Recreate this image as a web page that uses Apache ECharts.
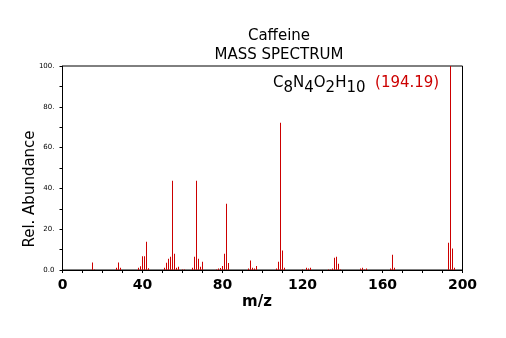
<!DOCTYPE html>
<html>
<head>
    <meta charset="utf-8">
    <title>Caffeine</title>
    <script src="https://cdn.jsdelivr.net/npm/echarts@6/dist/echarts.min.js"></script>
</head>
<body style="margin:0">
    <div id="main" style="width: 506px;height:338px;"></div>
    <script type="text/javascript">

    // m/z values and their relative abundance
    var mzData = [15, 16, 27, 28, 29, 38, 39, 40, 41, 42, 43,
        51, 52, 53, 54, 55, 56, 57, 58, 60, 61,
        65, 66, 67, 68, 69, 70,
        77, 78, 79, 80, 81, 82, 83,
        93, 94, 95, 96, 97,
        107, 108, 109, 110, 111,
        120, 122, 123, 124,
        133, 134, 135, 136, 137, 138, 139,
        149, 150, 151, 152,
        164, 165, 166,
        193, 194, 195, 196];
    var abundData = [3.7, 0.3, 1.1, 3.7, 1.1, 1.1, 1.8, 6.7, 6.7, 13.9, 0.8,
        1.1, 3.6, 5.5, 6.5, 43.8, 8.0, 1.1, 1.6, 0.3, 0.3,
        1.1, 6.5, 43.8, 5.5, 1.6, 4.0,
        0.3, 0.7, 1.0, 2.0, 8.0, 32.5, 3.4,
        0.7, 4.6, 1.1, 0.7, 2.0,
        0.7, 4.1, 72.2, 9.5, 1.1,
        0.3, 1.1, 0.7, 1.1,
        0.3, 0.3, 0.7, 6.0, 6.5, 3.1, 0.3,
        0.7, 1.1, 0.3, 0.7,
        0.7, 7.5, 1.1,
        13.4, 100, 10.5, 1.1];

    var font = 'DejaVu Sans';
    var red = '#cc0000';

    var myChart = echarts.init(document.getElementById('main'));

    let pairs = [];
    mzData.forEach((m, i) => {
        pairs.push([m, abundData[i]]);
    });

    var option = {
        animation: false,
        backgroundColor: '#fff',
        // half-pixel left so the 1px bars land on whole pixels
        grid: {
            left: 62.5, top: 66, width: 400, height: 204,
            show: true, borderColor: '#000', borderWidth: 1
        },
        graphic: [
            { type: 'text', x: 279, y: 29, style: { text: 'Caffeine', font: '15px "DejaVu Sans"', fill: '#000', align: 'center' } },
            { type: 'text', x: 279, y: 48, style: { text: 'MASS SPECTRUM', font: '15px "DejaVu Sans"', fill: '#000', align: 'center' } },
            {
                type: 'text', x: 273, y: 71,
                style: {
                    text: '{m|C}{s|8}{m|N}{s|4}{m|O}{s|2}{m|H}{s|10}{r|  (194.19)}',
                    rich: {
                        m: { fontSize: 15, fontFamily: font, fill: '#000' },
                        s: { fontSize: 15, fontFamily: font, fill: '#000', padding: [10, 0, 0, 0] },
                        r: { fontSize: 15, fontFamily: font, fill: red }
                    }
                }
            },
            { type: 'text', x: 30, y: 189, rotation: Math.PI / 2, style: { text: 'Rel. Abundance', font: '15px "DejaVu Sans"', fill: '#000', align: 'center', verticalAlign: 'middle' } },
            { type: 'text', x: 257, y: 302, style: { text: 'm/z', font: 'bold 15px "DejaVu Sans"', fill: '#000', align: 'center', verticalAlign: 'middle' } }
        ],
        xAxis: {
            type: 'value',
            min: 0,
            max: 200,
            interval: 40,
            axisLine: { lineStyle: { color: '#000', width: 1 } },
            axisTick: { length: 3, lineStyle: { color: '#000' } },
            minorTick: { show: true, splitNumber: 4, length: 3, lineStyle: { color: '#000' } },
            splitLine: { show: false },
            axisLabel: { color: '#000', fontFamily: font, fontSize: 14, fontWeight: 'bold', margin: 8 }
        },
        yAxis: {
            type: 'value',
            min: 0,
            max: 100,
            interval: 20,
            axisLine: { show: true, lineStyle: { color: '#000', width: 1 } },
            axisTick: { show: true, length: 3, lineStyle: { color: '#000' } },
            minorTick: { show: true, splitNumber: 2, length: 3, lineStyle: { color: '#000' } },
            splitLine: { show: false },
            axisLabel: {
                color: '#000', fontFamily: font, fontSize: 7, margin: 8,
                formatter: v => (v === 0 ? '0.0' : v + '.')
            }
        },
        series: [{
            type: 'bar',
            data: pairs,
            barWidth: 1,
            itemStyle: { color: red }
        }]
    };

    myChart.setOption(option);
    </script>
</body>
</html>
